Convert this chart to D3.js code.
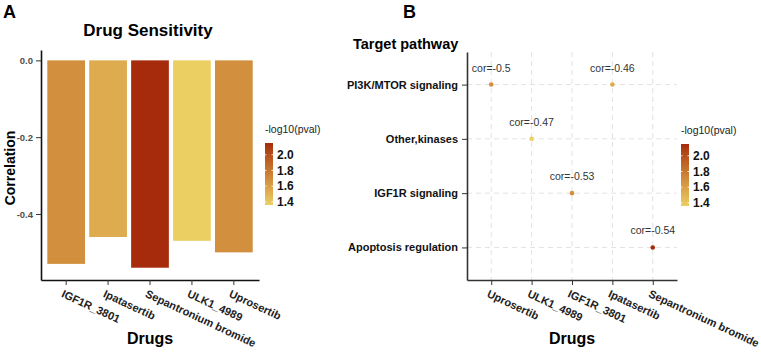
<!DOCTYPE html>
<html>
<head>
<meta charset="utf-8">
<script src="https://cdn.jsdelivr.net/npm/d3@7"></script>
<style>
  body { margin: 0; background: #fff; }
  svg { font-family: "Liberation Sans", Arial, sans-serif; }
</style>
</head>
<body>
<svg id="chart" width="761" height="352"></svg>
<script>
// drug data (panel A order)
const drugs = ["IGF1R_3801", "Ipatasertib", "Sepantronium bromide", "ULK1_4989", "Uprosertib"];
const correlations = [-0.53, -0.46, -0.54, -0.47, -0.5];
const logPvals = [1.68, 1.54, 2.15, 1.36, 1.68];
const pathways = ["IGF1R signaling", "PI3K/MTOR signaling", "Apoptosis regulation", "Other,kinases", "PI3K/MTOR signaling"];

// panel B orders
const drugOrderB = ["Uprosertib", "ULK1_4989", "IGF1R_3801", "Ipatasertib", "Sepantronium bromide"];
const pathwayOrder = ["PI3K/MTOR signaling", "Other,kinases", "IGF1R signaling", "Apoptosis regulation"];

const yTicksA = [0, -0.2, -0.4];
const legendTicks = [2.0, 1.8, 1.6, 1.4];

const data = drugs.map((d, i) => ({
    drug: d, cor: correlations[i], logp: logPvals[i], pathway: pathways[i]
}));

const svg = d3.select("#chart");

const color = d3.scaleLinear()
    .domain([1.36, 2.15])
    .range(["#ebcf63", "#a62b0c"])
    .interpolate(d3.interpolateLab);

// gradient for legends
const defs = svg.append("defs");
const grad = defs.append("linearGradient")
    .attr("id", "pgrad")
    .attr("x1", 0).attr("y1", 1).attr("x2", 0).attr("y2", 0);
d3.range(0, 1.01, 0.1).forEach(t => {
    grad.append("stop")
        .attr("offset", t)
        .attr("stop-color", color(1.36 + t * (2.15 - 1.36)));
});

// ---------- Panel A ----------
const A = { left: 41, right: 259, top: 50, bottom: 280 };

const xA = d3.scaleBand()
    .domain(drugs)
    .range([A.left, A.right])
    .paddingInner(0.1)
    .paddingOuter(0.15);

const yA = d3.scaleLinear()
    .domain([-0.572, 0.027])
    .range([A.bottom, A.top]);

svg.append("text")
    .attr("x", 3).attr("y", 18)
    .attr("font-size", 18).attr("font-weight", "bold")
    .text("A");

svg.append("text")
    .attr("x", 148).attr("y", 36)
    .attr("text-anchor", "middle")
    .attr("font-size", 17).attr("font-weight", "bold")
    .text("Drug Sensitivity");

svg.append("g").selectAll("rect")
    .data(data)
    .join("rect")
    .attr("x", d => xA(d.drug))
    .attr("width", xA.bandwidth())
    .attr("y", yA(0))
    .attr("height", d => yA(d.cor) - yA(0))
    .attr("fill", d => color(d.logp));

const yAxisA = svg.append("g")
    .attr("transform", `translate(${A.left},0)`)
    .call(d3.axisLeft(yA).tickValues(yTicksA).tickSize(5).tickSizeOuter(0));
yAxisA.select(".domain").attr("stroke", "#111").attr("stroke-width", 1.6);
yAxisA.selectAll(".tick line").attr("stroke", "#333");
yAxisA.selectAll(".tick text")
    .attr("font-size", 9.5).attr("font-weight", "bold").attr("fill", "#4d4d4d")
    .attr("font-family", "Liberation Sans, Arial, sans-serif")
    .text(d => d3.format(".1f")(d).replace("\u2212", "-"));

const xAxisA = svg.append("g")
    .attr("transform", `translate(0,${A.bottom})`)
    .call(d3.axisBottom(xA).tickSize(5).tickSizeOuter(0));
xAxisA.select(".domain").attr("stroke", "#111").attr("stroke-width", 1.6);
xAxisA.selectAll(".tick line").attr("stroke", "#333");
xAxisA.selectAll(".tick text")
    .attr("font-size", 11).attr("font-weight", "bold").attr("fill", "#222")
    .attr("font-family", "Liberation Sans, Arial, sans-serif")
    .attr("text-anchor", "start")
    .attr("dy", "0.75em")
    .attr("transform", "translate(-2,9) rotate(25)")
    .attr("y", 0).attr("x", 0);

svg.append("text")
    .attr("transform", `translate(15,${(A.top + A.bottom) / 2 + 3}) rotate(-90)`)
    .attr("text-anchor", "middle")
    .attr("font-size", 14).attr("font-weight", "bold")
    .text("Correlation");

svg.append("text")
    .attr("x", 150).attr("y", 344)
    .attr("text-anchor", "middle")
    .attr("font-size", 16).attr("font-weight", "bold")
    .text("Drugs");

function drawLegend(x, y) {
    const g = svg.append("g").attr("transform", `translate(${x},${y})`);
    g.append("text")
        .attr("x", 0).attr("y", 0)
        .attr("font-size", 10.5).attr("fill", "#222")
        .text("-log10(pval)");
    const barTop = 10, barH = 62;
    const ly = d3.scaleLinear().domain([1.36, 2.15]).range([barTop + barH, barTop]);
    g.append("rect")
        .attr("x", 0).attr("y", barTop)
        .attr("width", 8).attr("height", barH)
        .attr("fill", "url(#pgrad)");
    legendTicks.forEach(v => {
        g.append("line")
            .attr("x1", 0).attr("x2", 1.5)
            .attr("y1", ly(v)).attr("y2", ly(v))
            .attr("stroke", "#fff").attr("stroke-width", 0.8);
        g.append("line")
            .attr("x1", 6.5).attr("x2", 8)
            .attr("y1", ly(v)).attr("y2", ly(v))
            .attr("stroke", "#fff").attr("stroke-width", 0.8);
        g.append("text")
            .attr("x", 12).attr("y", ly(v))
            .attr("dy", "0.36em")
            .attr("font-size", 12).attr("font-weight", "bold").attr("fill", "#111")
            .text(v.toFixed(1));
    });
}
drawLegend(265, 133);

// ---------- Panel B ----------
const B = { left: 467, right: 677, top: 52, bottom: 280 };

const xB = d3.scalePoint()
    .domain(drugOrderB)
    .range([B.left, B.right])
    .padding(0.6);

const yB = d3.scalePoint()
    .domain(pathwayOrder)
    .range([B.top, B.bottom])
    .padding(0.6);

svg.append("text")
    .attr("x", 403).attr("y", 18)
    .attr("font-size", 18).attr("font-weight", "bold")
    .text("B");

svg.append("text")
    .attr("x", 353).attr("y", 49)
    .attr("font-size", 14.5).attr("font-weight", "bold")
    .text("Target pathway");

// dashed grid
svg.append("g").selectAll("line")
    .data(pathwayOrder)
    .join("line")
    .attr("x1", B.left).attr("x2", B.right)
    .attr("y1", d => yB(d)).attr("y2", d => yB(d))
    .attr("stroke", "#e2e2e2").attr("stroke-dasharray", "5,4").attr("stroke-width", 1);
svg.append("g").selectAll("line")
    .data(drugOrderB)
    .join("line")
    .attr("x1", d => xB(d)).attr("x2", d => xB(d))
    .attr("y1", B.top).attr("y2", B.bottom)
    .attr("stroke", "#e2e2e2").attr("stroke-dasharray", "5,4").attr("stroke-width", 1);

const yAxisB = svg.append("g")
    .attr("transform", `translate(${B.left},0)`)
    .call(d3.axisLeft(yB).tickSize(5).tickSizeOuter(0));
yAxisB.select(".domain").attr("stroke", "#333").attr("stroke-width", 1.6);
yAxisB.selectAll(".tick line").attr("stroke", "#333");
yAxisB.selectAll(".tick text")
    .attr("font-size", 11).attr("font-weight", "bold").attr("fill", "#111")
    .attr("font-family", "Liberation Sans, Arial, sans-serif")
    .attr("x", -9);

const xAxisB = svg.append("g")
    .attr("transform", `translate(0,${B.bottom})`)
    .call(d3.axisBottom(xB).tickSize(5).tickSizeOuter(0));
xAxisB.select(".domain").attr("stroke", "#333").attr("stroke-width", 1.6);
xAxisB.selectAll(".tick line").attr("stroke", "#333");
xAxisB.selectAll(".tick text")
    .attr("font-size", 11).attr("font-weight", "bold").attr("fill", "#222")
    .attr("font-family", "Liberation Sans, Arial, sans-serif")
    .attr("text-anchor", "start")
    .attr("dy", "0.75em")
    .attr("transform", "translate(-2,9) rotate(25)")
    .attr("y", 0).attr("x", 0);

svg.append("g").selectAll("circle")
    .data(data)
    .join("circle")
    .attr("cx", d => xB(d.drug))
    .attr("cy", d => yB(d.pathway))
    .attr("r", 2.3)
    .attr("fill", d => color(d.logp));

svg.append("g").selectAll("text")
    .data(data)
    .join("text")
    .attr("x", d => xB(d.drug))
    .attr("y", d => yB(d.pathway) - 13)
    .attr("text-anchor", "middle")
    .attr("font-size", 10.5).attr("fill", "#333")
    .text(d => "cor=" + d.cor);

svg.append("text")
    .attr("x", 572).attr("y", 344)
    .attr("text-anchor", "middle")
    .attr("font-size", 16).attr("font-weight", "bold")
    .text("Drugs");

drawLegend(681, 134);
</script>
</body>
</html>
